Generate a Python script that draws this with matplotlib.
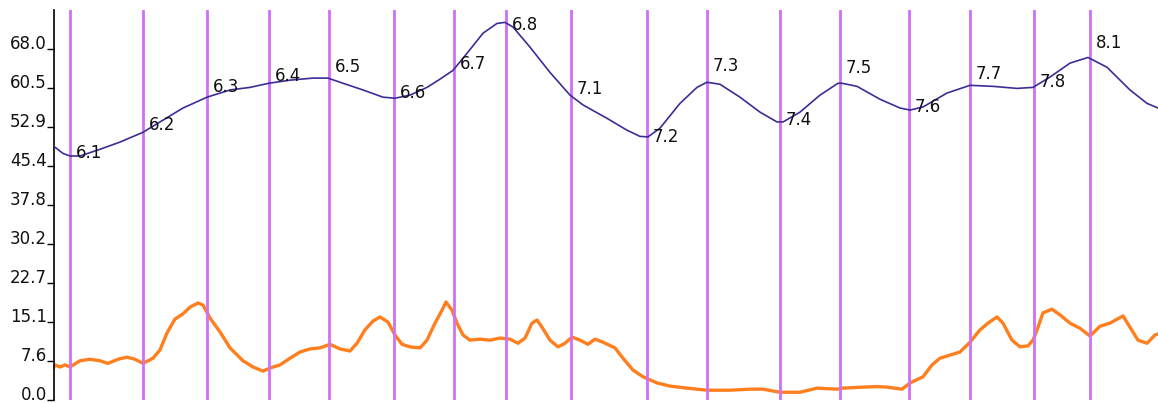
import numpy as np
import matplotlib
matplotlib.use('Agg')
import matplotlib.pyplot as plt

# release markers (x position on the time axis) and their version names
versions = ['6.1', '6.2', '6.3', '6.4', '6.5', '6.6', '6.7', '6.8', '7.1',
            '7.2', '7.3', '7.4', '7.5', '7.6', '7.7', '7.8', '8.1']
release_x = [70, 143, 207, 269, 329, 394, 454, 506, 571,
             647, 707, 780, 840, 909, 970, 1034, 1090]
label_y = [46.9, 52.3, 59.7, 61.8, 63.5, 58.5, 64.1, 71.7, 59.3,
           50.0, 63.7, 53.3, 63.3, 55.8, 62.2, 60.6, 68.2]

# upper (blue) series
blue_x = [54, 55, 63, 70, 80, 100, 120, 143, 160, 183, 207, 230, 250, 269,
          290, 313, 328, 343, 363, 383, 395, 410, 427, 440, 453, 467, 483,
          497, 505, 513, 530, 550, 570, 583, 607, 627, 640, 648, 660, 680,
          697, 707, 720, 740, 760, 777, 783, 800, 820, 838, 842, 857, 880,
          900, 910, 923, 947, 970, 993, 1017, 1033, 1050, 1070, 1088, 1107,
          1130, 1147, 1158]
blue_y = [49.2, 49.0, 47.8, 47.3, 47.3, 48.6, 50.0, 51.9, 53.9, 56.6, 58.7,
          60.1, 60.6, 61.4, 62.0, 62.4, 62.4, 61.4, 60.1, 58.7, 58.5, 59.1,
          60.6, 62.2, 63.9, 67.2, 71.1, 73.0, 73.2, 72.3, 68.4, 63.5, 59.1,
          57.2, 54.6, 52.3, 51.1, 51.0, 52.7, 57.5, 60.6, 61.6, 61.2, 58.7,
          55.8, 53.9, 53.9, 55.8, 59.1, 61.4, 61.4, 60.8, 58.3, 56.6, 56.2,
          56.8, 59.5, 61.0, 60.8, 60.4, 60.6, 62.6, 65.3, 66.4, 64.5, 60.1,
          57.5, 56.6]

# lower (orange) series
orange_x = [54, 55, 60, 65, 70, 80, 90, 100, 108, 118, 127, 135, 143, 153,
            160, 167, 175, 183, 190, 198, 203, 210, 220, 230, 243, 253, 263,
            270, 280, 290, 300, 310, 320, 330, 340, 350, 357, 365, 373, 380,
            388, 395, 402, 410, 420, 427, 435, 442, 446, 452, 457, 463, 470,
            480, 490, 500, 510, 518, 525, 532, 537, 542, 550, 558, 565, 572,
            580, 588, 595, 603, 615, 623, 633, 643, 657, 670, 687, 707, 730,
            750, 763, 780, 800, 817, 837, 843, 863, 877, 887, 902, 910, 923,
            932, 940, 950, 960, 970, 980, 988, 997, 1003, 1012, 1020, 1028,
            1033, 1038, 1043, 1052, 1060, 1070, 1080, 1090, 1100, 1110, 1123,
            1130, 1138, 1147, 1155, 1158]
orange_y = [6.4, 6.8, 6.4, 6.8, 6.4, 7.6, 7.9, 7.6, 7.1, 7.9, 8.3, 7.9, 7.1,
            8.1, 9.7, 13.0, 15.7, 16.7, 18.0, 18.8, 18.4, 15.9, 13.2, 10.1,
            7.6, 6.4, 5.6, 6.2, 6.8, 8.1, 9.3, 9.9, 10.1, 10.8, 9.9, 9.5,
            11.0, 13.6, 15.3, 16.1, 15.1, 12.6, 10.8, 10.3, 10.1, 11.6, 14.9,
            17.4, 19.0, 17.4, 14.9, 12.6, 11.6, 11.8, 11.6, 12.0, 11.8, 11.0,
            12.0, 14.9, 15.5, 14.1, 11.6, 10.3, 11.0, 12.2, 11.6, 10.8, 11.8,
            11.2, 10.1, 8.1, 5.8, 4.5, 3.3, 2.7, 2.3, 1.9, 1.9, 2.1, 2.1, 1.5,
            1.5, 2.3, 2.1, 2.3, 2.5, 2.6, 2.5, 2.1, 3.3, 4.5, 6.8, 8.1, 8.7,
            9.3, 11.2, 13.6, 14.9, 16.1, 14.9, 11.6, 10.3, 10.5, 11.6, 14.1,
            16.9, 17.6, 16.5, 14.9, 13.9, 12.4, 14.3, 14.9, 16.3, 14.1, 11.6,
            11.0, 12.6, 12.8]

ytick_vals = [0.0, 7.56, 15.12, 22.68, 30.24, 37.8, 45.36, 52.92, 60.48, 68.04]

fig = plt.figure(figsize=(11.58, 4.03), dpi=100)
ax = fig.add_axes([54 / 1158, 3 / 403, 1 - 54 / 1158, 1 - 13 / 403])

for rx in release_x:
    ax.axvline(rx, color='#d070f7', lw=2.0, zorder=3)

ax.plot(orange_x, orange_y, color='#ff7f1e', lw=2.4, zorder=2,
        solid_joinstyle='round')
ax.plot(blue_x, blue_y, color='#3b2d96', lw=1.2, zorder=4,
        solid_joinstyle='round')

for v, rx, ly in zip(versions, release_x, label_y):
    ax.annotate(v, (rx, ly), xytext=(6, 0), textcoords='offset pixels',
                fontsize=12, color='#111111', va='baseline', ha='left',
                zorder=5)

ax.set_xlim(54, 1158)
ax.set_ylim(0, 75.6)
ax.set_xticks([])
ax.set_yticks(ytick_vals)
ax.set_yticklabels(['%.1f' % t for t in ytick_vals])
ax.tick_params(axis='y', direction='out', length=5, width=1, pad=0,
               labelsize=12, labelcolor='#111111')
for t in ax.get_yticklabels():
    t.set_va('baseline')

for s in ['top', 'right', 'bottom']:
    ax.spines[s].set_visible(False)
ax.spines['left'].set_linewidth(1.2)

fig.savefig('out.png', dpi=100)
